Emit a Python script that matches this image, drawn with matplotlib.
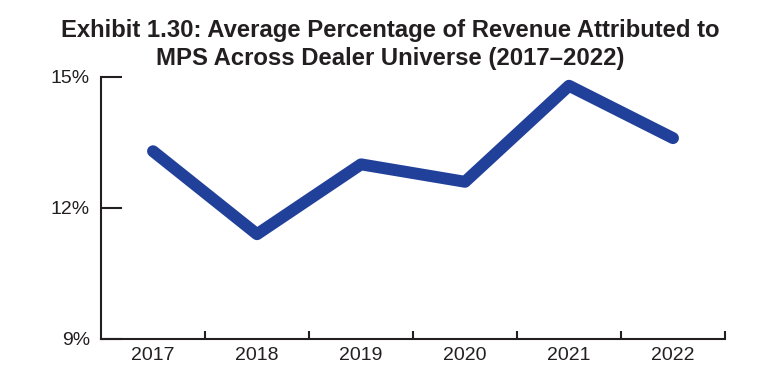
import numpy as np
import matplotlib.pyplot as plt

years = ['2017', '2018', '2019', '2020', '2021', '2022']
mps_share = [13.3, 11.4, 13.0, 12.6, 14.8, 13.6]
ytick_vals = [9, 12, 15]
ytick_labels = ['9%', '12%', '15%']

title = ('Exhibit 1.30: Average Percentage of Revenue Attributed to\n'
         'MPS Across Dealer Universe (2017\u20132022)')

plt.rcParams['font.family'] = ['Liberation Sans', 'DejaVu Sans']

fig = plt.figure(figsize=(7.8, 3.78), dpi=100)
ax = fig.add_axes([0.1295, 0.1032, 0.80, 0.6931])

x = np.arange(len(years))
ax.plot(x, mps_share, color='#21409a', linewidth=8.6,
        solid_capstyle='round', solid_joinstyle='round', clip_on=False)

ax.set_xlim(-0.5, len(years) - 0.5)
ax.set_ylim(9, 15)

# boundary ticks between categories, labels centred on categories
ax.set_xticks(np.arange(len(years)) + 0.5)
ax.set_xticklabels([])
ax.set_xticks(x, minor=True)
ax.set_xticklabels(years, minor=True)
ax.tick_params(axis='x', which='major', direction='in', length=6,
               width=1.5, color='#231f20')
ax.tick_params(axis='x', which='minor', length=0, pad=6,
               labelsize=14, labelcolor='#231f20')

ax.set_yticks(ytick_vals)
ax.set_yticklabels(ytick_labels)
ax.tick_params(axis='y', direction='in', length=15, width=1.5,
               color='#231f20', pad=8, labelsize=14, labelcolor='#231f20')

for side in ['top', 'right']:
    ax.spines[side].set_visible(False)
for side in ['left', 'bottom']:
    ax.spines[side].set_linewidth(1.5)
    ax.spines[side].set_color('#231f20')

fig.text(0.5, 0.95, title, ha='center', va='top', fontsize=17.2,
         fontweight='bold', color='#231f20', linespacing=1.3)

fig.savefig('out.png', dpi=100)
